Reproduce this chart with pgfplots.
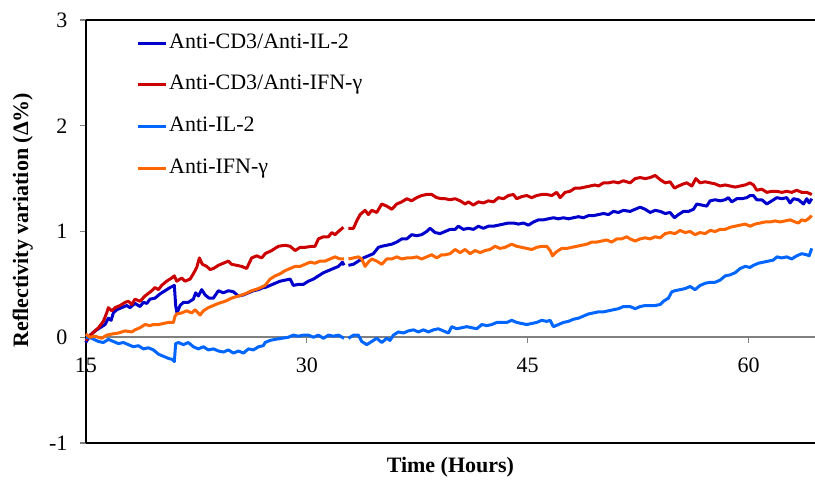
\documentclass[border=0pt]{standalone}
\usepackage{fontspec}
\setmainfont{Liberation Serif}
\usepackage{pgfplots}
\pgfplotsset{compat=1.18}
\definecolor{cdil}{RGB}{0,0,204}
\definecolor{cdifn}{RGB}{204,0,0}
\definecolor{il}{RGB}{0,102,255}
\definecolor{ifn}{RGB}{255,102,0}
\newcommand{\tfont}{\fontsize{11pt}{13pt}\selectfont}

\begin{document}
\begin{tikzpicture}
\begin{axis}[
  scale only axis,
  width=364.6pt, height=211.5pt,
  xmin=15, xmax=64.5,
  ymin=-1, ymax=3,
  axis x line*=middle,
  axis y line*=left,
  hide obscured x ticks=false,
  hide obscured y ticks=false,
  x axis line style={draw=gray, line width=0.75pt},
  y axis line style={draw=black, line width=0.75pt},
  xtick={15,30,45,60},
  ytick={-1,0,1,2,3},
  tick align=outside,
  major tick length=3pt,
  major tick style={gray, line width=0.6pt},
  tick label style={font=\tfont, inner sep=0pt},
  /pgf/number format/assume math mode=true,
  xticklabel style={anchor=center, yshift=-11pt},
  yticklabel style={anchor=east, xshift=-6pt},
  xlabel={\bfseries Time (Hours)},
  ylabel={\bfseries Reflectivity variation (Δ\%)},
  every axis x label/.style={at={(rel axis cs:0.5,0)}, anchor=center, yshift=-12pt, font=\tfont},
  every axis y label/.style={at={(rel axis cs:0,0.527)}, xshift=-31.5pt, rotate=90, anchor=center, font=\tfont},
  clip=false,
  unbounded coords=jump,
  legend cell align=left,
  legend style={draw=none, fill=none, at={(rel axis cs:0,1)}, anchor=north west,
    xshift=25pt, yshift=-5pt, font=\tfont, inner sep=0pt, row sep=7.8pt,
    nodes={inner sep=1pt, text height=8pt, text depth=3pt}},
  legend image code/.code={\draw[#1] (0pt,0pt) -- (14pt,0pt);},
  every axis plot/.append style={line width=1.5pt, line join=round},
]
% Anti-CD3/Anti-IL-2
\addplot[cdil] coordinates {
(15.00,-0.05) (15.29,0.02) (15.63,0.06) (15.97,0.09) (16.31,0.12) (16.53,0.18) (16.72,0.16) (16.87,0.23)
(17.10,0.26) (17.44,0.28) (17.78,0.30) (18.00,0.28) (18.34,0.32) (18.68,0.29) (18.91,0.33) (19.14,0.32)
(19.36,0.36) (19.70,0.37) (20.04,0.41) (20.38,0.44) (20.72,0.47) (21.01,0.49) (21.10,0.30) (21.19,0.23)
(21.40,0.30) (21.62,0.33) (21.96,0.33) (22.30,0.36) (22.46,0.42) (22.64,0.39) (22.87,0.45) (23.10,0.40)
(23.37,0.37) (23.66,0.37) (24.00,0.44) (24.34,0.42) (24.68,0.44) (25.02,0.43) (25.36,0.39) (25.70,0.40)
(26.04,0.42) (26.38,0.44) (26.72,0.45) (27.05,0.47) (27.17,0.47) (27.51,0.49) (27.85,0.51) (28.19,0.53)
(28.53,0.54) (28.87,0.55) (29.09,0.49) (29.43,0.50) (29.77,0.50) (30.11,0.53) (30.45,0.55) (30.79,0.58)
(31.13,0.61) (31.47,0.63) (31.81,0.65) (32.15,0.67) (32.42,0.71) (32.53,0.68) (32.68,nan)
(32.83,0.68) (33.17,0.69) (33.50,0.72) (33.84,0.75) (34.18,0.77) (34.52,0.79) (34.86,0.85) (35.09,0.86)
(35.43,0.87) (35.77,0.88) (36.11,0.90) (36.45,0.93) (36.79,0.93) (37.12,0.97) (37.46,0.96) (37.80,0.97)
(38.14,1.00) (38.37,1.03) (38.71,0.99) (39.05,0.98) (39.39,1.00) (39.73,1.02) (40.07,1.02) (40.29,1.05)
(40.63,1.02) (40.97,1.03) (41.31,1.02) (41.65,1.05) (41.99,1.03) (42.33,1.05) (42.67,1.05) (43.01,1.06)
(43.35,1.07) (43.69,1.08) (44.03,1.08) (44.37,1.07) (44.71,1.08) (45.05,1.06) (45.39,1.09) (45.73,1.11)
(46.06,1.11) (46.40,1.12) (46.74,1.13) (47.08,1.12) (47.42,1.13) (47.76,1.12) (48.10,1.13) (48.44,1.14)
(48.78,1.13) (49.12,1.15) (49.46,1.15) (49.80,1.16) (50.14,1.17) (50.48,1.16) (50.82,1.19) (51.16,1.18)
(51.49,1.20) (51.95,1.19) (52.29,1.21) (52.63,1.23) (52.97,1.21) (53.31,1.18) (53.65,1.20) (53.99,1.19)
(54.33,1.17) (54.66,1.18) (54.96,1.13) (55.23,1.16) (55.57,1.19) (55.91,1.19) (56.25,1.21) (56.47,1.26)
(56.81,1.25) (57.15,1.24) (57.38,1.29) (57.72,1.30) (58.06,1.29) (58.40,1.30) (58.62,1.32) (58.85,1.28)
(59.19,1.31) (59.53,1.31) (59.87,1.32) (60.09,1.34) (60.32,1.34) (60.55,1.30) (60.89,1.30) (61.23,1.26)
(61.57,1.29) (61.91,1.32) (62.24,1.31) (62.58,1.32) (62.81,1.27) (63.04,1.31) (63.38,1.30) (63.72,1.26)
(63.94,1.31) (64.10,1.27) (64.28,1.31)
};
\addlegendentry{Anti-CD3/Anti-IL-2}
% Anti-CD3/Anti-IFN-gamma
\addplot[cdifn] coordinates {
(15.00,-0.03) (15.40,0.03) (15.86,0.09) (16.19,0.15) (16.42,0.23) (16.53,0.28) (16.76,0.25) (16.99,0.28)
(17.33,0.30) (17.67,0.33) (17.89,0.34) (18.12,0.31) (18.34,0.36) (18.68,0.34) (19.02,0.39) (19.48,0.44)
(19.70,0.47) (19.93,0.45) (20.15,0.49) (20.49,0.53) (20.83,0.56) (21.01,0.58) (21.17,0.53) (21.51,0.56)
(21.74,0.53) (22.08,0.55) (22.30,0.60) (22.53,0.66) (22.71,0.75) (22.91,0.69) (23.21,0.67) (23.43,0.64)
(23.66,0.65) (24.00,0.68) (24.34,0.70) (24.68,0.72) (24.90,0.69) (25.24,0.68) (25.58,0.67) (25.92,0.65)
(26.26,0.75) (26.60,0.77) (26.94,0.75) (27.17,0.79) (27.62,0.82) (28.07,0.86) (28.53,0.87) (28.87,0.86)
(29.21,0.82) (29.55,0.85) (29.89,0.85) (30.34,0.86) (30.56,0.86) (30.79,0.93) (31.13,0.95) (31.47,0.95)
(31.70,0.99) (31.92,0.97) (32.15,1.00) (32.49,1.04) (32.68,nan)
(32.83,1.03) (33.17,1.03) (33.39,1.10) (33.62,1.16) (33.96,1.20) (34.18,1.16) (34.41,1.20) (34.75,1.18)
(35.09,1.26) (35.43,1.24) (35.77,1.21) (36.11,1.26) (36.45,1.28) (36.79,1.31) (37.12,1.29) (37.46,1.32)
(37.80,1.34) (38.14,1.35) (38.48,1.35) (38.82,1.32) (39.16,1.31) (39.39,1.31) (39.73,1.30) (40.07,1.31)
(40.41,1.29) (40.75,1.26) (40.97,1.28) (41.31,1.25) (41.65,1.28) (41.99,1.27) (42.33,1.29) (42.67,1.28)
(43.01,1.32) (43.35,1.31) (43.69,1.34) (44.03,1.35) (44.25,1.31) (44.59,1.33) (44.93,1.34) (45.27,1.32)
(45.61,1.34) (45.95,1.35) (46.29,1.35) (46.63,1.34) (46.97,1.37) (47.20,1.32) (47.54,1.37) (47.87,1.38)
(48.21,1.41) (48.55,1.41) (48.89,1.42) (49.23,1.43) (49.57,1.44) (49.80,1.43) (50.14,1.46) (50.48,1.46)
(50.82,1.47) (51.16,1.46) (51.49,1.48) (51.95,1.46) (52.29,1.50) (52.63,1.51) (52.97,1.50) (53.31,1.51)
(53.65,1.53) (53.99,1.49) (54.33,1.46) (54.66,1.47) (54.96,1.41) (55.23,1.43) (55.57,1.45) (55.80,1.46)
(56.14,1.43) (56.41,1.50) (56.70,1.46) (57.04,1.47) (57.38,1.46) (57.72,1.45) (58.06,1.43) (58.40,1.44)
(58.74,1.43) (59.08,1.42) (59.42,1.43) (59.76,1.44) (60.09,1.46) (60.32,1.44) (60.55,1.39) (60.89,1.40)
(61.23,1.37) (61.57,1.38) (61.91,1.38) (62.24,1.37) (62.58,1.38) (62.92,1.37) (63.26,1.39) (63.60,1.37)
(63.94,1.37) (64.28,1.35)
};
\addlegendentry{Anti-CD3/Anti-IFN-γ}
% Anti-IL-2
\addplot[il] coordinates {
(15.00,0.00) (15.40,-0.01) (15.86,-0.04) (16.19,-0.05) (16.53,-0.02) (16.87,-0.04) (17.21,-0.06) (17.55,-0.05)
(17.89,-0.07) (18.23,-0.09) (18.57,-0.08) (18.91,-0.11) (19.25,-0.10) (19.59,-0.12) (19.93,-0.16) (20.27,-0.18)
(20.61,-0.20) (20.88,-0.21) (21.01,-0.23) (21.10,-0.06) (21.29,-0.05) (21.62,-0.07) (21.96,-0.05) (22.30,-0.09)
(22.64,-0.11) (22.98,-0.09) (23.32,-0.12) (23.66,-0.11) (24.00,-0.13) (24.34,-0.14) (24.68,-0.12) (25.02,-0.15)
(25.36,-0.13) (25.70,-0.15) (26.04,-0.11) (26.38,-0.12) (26.72,-0.09) (27.05,-0.08) (27.17,-0.05) (27.51,-0.03)
(27.85,-0.02) (28.30,-0.01) (28.75,0.00) (29.09,0.02) (29.43,0.01) (29.77,0.02) (30.11,0.02) (30.45,0.00)
(30.79,0.02) (31.13,-0.01) (31.47,0.02) (31.81,0.01) (32.15,0.02) (32.53,-0.01) (32.68,nan)
(32.83,-0.01) (33.17,0.02) (33.50,0.02) (33.73,-0.04) (34.07,-0.07) (34.41,-0.04) (34.75,-0.01) (35.09,-0.05)
(35.43,-0.01) (35.65,-0.03) (35.88,0.02) (36.22,0.05) (36.56,0.04) (36.90,0.06) (37.24,0.07) (37.58,0.05)
(37.92,0.07) (38.26,0.05) (38.60,0.07) (38.93,0.08) (39.27,0.06) (39.62,0.04) (39.84,0.10) (40.18,0.08)
(40.52,0.09) (40.86,0.10) (41.20,0.09) (41.54,0.08) (41.88,0.12) (42.22,0.11) (42.56,0.12) (42.90,0.14)
(43.24,0.14) (43.58,0.14) (43.91,0.16) (44.25,0.14) (44.59,0.13) (44.93,0.12) (45.27,0.13) (45.61,0.14)
(45.95,0.16) (46.29,0.15) (46.52,0.16) (46.74,0.10) (47.08,0.12) (47.42,0.14) (47.76,0.15) (48.10,0.17)
(48.44,0.18) (48.78,0.20) (49.12,0.22) (49.46,0.23) (49.80,0.24) (50.14,0.24) (50.48,0.25) (50.82,0.26)
(51.16,0.27) (51.49,0.29) (51.95,0.29) (52.29,0.27) (52.63,0.29) (52.97,0.30) (53.31,0.30) (53.65,0.30)
(53.99,0.31) (54.21,0.34) (54.55,0.37) (54.78,0.43) (55.00,0.44) (55.34,0.45) (55.68,0.46) (56.02,0.48)
(56.36,0.45) (56.70,0.49) (57.04,0.51) (57.38,0.52) (57.72,0.52) (58.06,0.54) (58.40,0.58) (58.74,0.59)
(59.08,0.61) (59.42,0.65) (59.76,0.67) (60.09,0.66) (60.32,0.68) (60.66,0.70) (61.00,0.71) (61.34,0.72)
(61.68,0.73) (61.91,0.76) (62.24,0.75) (62.58,0.76) (62.92,0.74) (63.26,0.77) (63.60,0.79) (63.94,0.78)
(64.10,0.77) (64.28,0.84)
};
\addlegendentry{Anti-IL-2}
% Anti-IFN-gamma
\addplot[ifn] coordinates {
(15.00,0.03) (15.29,0.00) (15.63,0.01) (16.08,-0.01) (16.42,0.02) (16.76,0.03) (17.21,0.04) (17.67,0.06)
(18.12,0.05) (18.34,0.07) (18.68,0.09) (19.02,0.12) (19.36,0.11) (19.59,0.12) (19.93,0.12) (20.27,0.13)
(20.61,0.14) (20.95,0.14) (21.06,0.20) (21.17,0.22) (21.51,0.23) (21.85,0.25) (22.19,0.23) (22.42,0.26)
(22.76,0.21) (22.98,0.25) (23.32,0.28) (23.66,0.30) (24.00,0.32) (24.45,0.34) (24.90,0.37) (25.36,0.39)
(25.81,0.41) (26.26,0.44) (26.72,0.46) (27.17,0.49) (27.51,0.55) (27.85,0.58) (28.19,0.60) (28.53,0.63)
(28.87,0.65) (29.21,0.67) (29.55,0.67) (29.89,0.69) (30.22,0.71) (30.56,0.70) (30.90,0.72) (31.24,0.72)
(31.58,0.74) (31.92,0.76) (32.26,0.74) (32.53,0.74) (32.68,nan)
(32.83,0.74) (33.17,0.75) (33.50,0.76) (33.73,0.74) (33.96,0.67) (34.18,0.71) (34.41,0.74) (34.75,0.72)
(35.09,0.69) (35.43,0.74) (35.77,0.74) (36.11,0.76) (36.45,0.74) (36.79,0.75) (37.12,0.75) (37.46,0.76)
(37.80,0.74) (38.14,0.76) (38.48,0.78) (38.82,0.75) (39.16,0.78) (39.39,0.78) (39.73,0.79) (40.07,0.83)
(40.41,0.80) (40.75,0.83) (41.09,0.79) (41.43,0.82) (41.77,0.80) (42.11,0.82) (42.44,0.83) (42.78,0.86)
(43.12,0.84) (43.46,0.85) (43.91,0.88) (44.25,0.86) (44.59,0.85) (44.93,0.84) (45.27,0.83) (45.61,0.85)
(45.95,0.86) (46.29,0.86) (46.52,0.82) (46.68,0.77) (46.97,0.81) (47.31,0.84) (47.65,0.84) (47.99,0.85)
(48.33,0.86) (48.67,0.87) (49.01,0.88) (49.35,0.90) (49.69,0.90) (50.02,0.91) (50.36,0.92) (50.70,0.90)
(51.04,0.93) (51.38,0.93) (51.72,0.95) (51.95,0.93) (52.29,0.91) (52.63,0.93) (52.97,0.94) (53.31,0.93)
(53.65,0.95) (53.99,0.94) (54.33,0.98) (54.66,0.99) (55.00,0.98) (55.34,1.01) (55.68,0.99) (56.02,1.00)
(56.36,0.97) (56.70,0.99) (57.04,0.98) (57.38,1.01) (57.72,1.00) (58.06,1.02) (58.40,1.02) (58.74,1.04)
(59.08,1.05) (59.42,1.06) (59.76,1.07) (60.09,1.05) (60.43,1.07) (60.77,1.08) (61.11,1.09) (61.45,1.09)
(61.79,1.10) (62.13,1.09) (62.47,1.10) (62.81,1.11) (63.15,1.09) (63.38,1.08) (63.60,1.11) (63.83,1.10)
(64.05,1.12) (64.28,1.15)
};
\addlegendentry{Anti-IFN-γ}
\draw[black, line width=1pt] (rel axis cs:0,1) -- (rel axis cs:1,1);
\draw[black, line width=1pt] (rel axis cs:0,0) -- (rel axis cs:1,0);
\coordinate (bl) at (rel axis cs:0,0);
\coordinate (tr) at (rel axis cs:1,1);
\end{axis}
\pgfresetboundingbox
\path ([shift={(-42.9pt,-18.5pt)}]bl) rectangle ([shift={(0pt,10pt)}]tr);
\end{tikzpicture}
\end{document}
